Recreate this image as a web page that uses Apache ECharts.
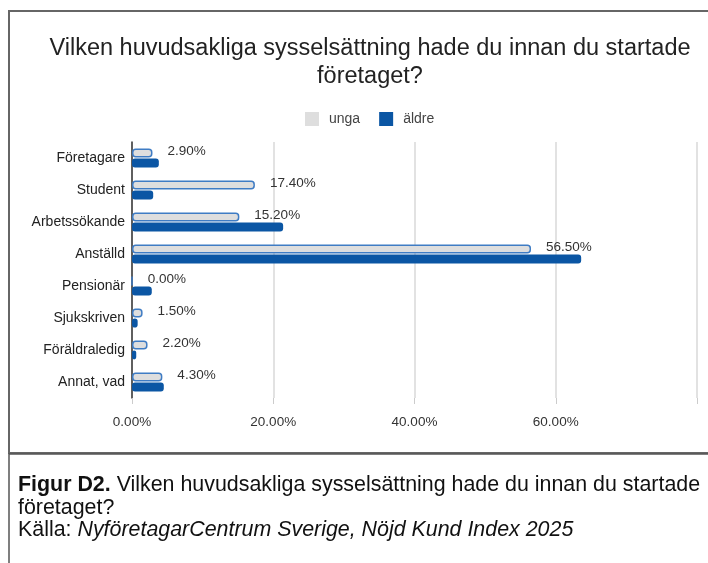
<!DOCTYPE html>
<html lang="sv">
<head>
    <meta charset="UTF-8">
    <title>Sysselsättning</title>
    <script type="text/javascript" src="https://cdn.jsdelivr.net/npm/echarts@6/dist/echarts.min.js"></script>
    <style>
        body { margin: 0; background: #fff; }
    </style>
</head>
<body>
<div id="chart" style="width:708px; height:563px;"></div>
<script>
    var categories = ['Företagare', 'Student', 'Arbetssökande', 'Anställd', 'Pensionär', 'Sjukskriven', 'Föräldraledig', 'Annat, vad'];
    var unga = [2.9, 17.4, 15.2, 56.5, 0.0, 1.5, 2.2, 4.3];
    var aldre = [3.8, 3.0, 21.4, 63.6, 2.8, 0.8, 0.6, 4.5];
    var xTicks = [0, 20, 40, 60, 80];

    var font = 'Liberation Sans, Arial, sans-serif';
    var chart = echarts.init(document.getElementById('chart'));

    var option = {
        animation: false,
        textStyle: { fontFamily: font },
        title: {
            text: 'Vilken huvudsakliga sysselsättning hade du innan du startade\nföretaget?',
            left: 365,
            textAlign: 'center',
            top: 30,
            textStyle: { fontSize: 23.5, fontWeight: 'normal', color: '#222', lineHeight: 28, fontFamily: font }
        },
        legend: {
            top: 107,
            left: 300,
            itemWidth: 14,
            itemHeight: 14,
            itemGap: 19,
            icon: 'rect',
            textStyle: { fontSize: 14, color: '#444', fontFamily: font, padding: [0, 0, 0, 5] },
            data: [
                { name: 'unga', itemStyle: { color: '#dedede', borderWidth: 0 } },
                { name: 'äldre', itemStyle: { color: '#0b56a4' } }
            ]
        },
        grid: { left: 132, right: 11, top: 142, height: 256 },
        xAxis: {
            type: 'value',
            min: xTicks[0],
            max: xTicks[xTicks.length - 1],
            interval: 20,
            axisLine: { show: false },
            axisTick: { show: true, length: 6, lineStyle: { color: '#ccc' } },
            splitLine: { show: true, lineStyle: { color: '#d9d9d9', width: 1.5 } },
            axisLabel: {
                color: '#333', fontSize: 13.5, margin: 17,
                formatter: function (v) { return v === 80 ? '' : v.toFixed(2) + '%'; }
            }
        },
        yAxis: {
            type: 'category',
            inverse: true,
            data: categories,
            axisLine: { show: true, lineStyle: { color: '#333', width: 1.5 } },
            axisTick: { show: false },
            axisLabel: { color: '#222', fontSize: 14, margin: 7 }
        },
        series: [
            {
                name: 'unga',
                type: 'bar',
                data: unga,
                barWidth: 9,
                barGap: '10%',
                itemStyle: { color: '#dedede', borderColor: '#3f7cc4', borderWidth: 1.5, borderRadius: 3 },
                label: {
                    show: true,
                    position: 'right',
                    distance: 15,
                    offset: [0, -2],
                    color: '#333',
                    fontSize: 13.5,
                    formatter: function (p) { return p.value.toFixed(2) + '%'; }
                }
            },
            {
                name: 'äldre',
                type: 'bar',
                data: aldre,
                barWidth: 9,
                itemStyle: { color: '#0b56a4', borderRadius: 3 }
            }
        ],
        graphic: [
            {
                type: 'rect',
                shape: { x: 9, y: 11, width: 720, height: 442 },
                style: { fill: 'none', stroke: '#666', lineWidth: 2 },
                silent: true
            },
            {
                type: 'rect',
                shape: { x: 9, y: 454, width: 720, height: 130 },
                style: { fill: 'none', stroke: '#555', lineWidth: 1.5 },
                silent: true
            },
            {
                type: 'text',
                left: 18,
                top: 474,
                style: {
                    text: '{b|Figur D2.} Vilken huvudsakliga sysselsättning hade du innan du startade\nföretaget?\nKälla: {i|NyföretagarCentrum Sverige, Nöjd Kund Index 2025}',
                    fontFamily: font,
                    fontSize: 21.4,
                    lineHeight: 22.5,
                    fill: '#111',
                    rich: {
                        b: { fontWeight: 'bold', fontSize: 21.4, fontFamily: font, lineHeight: 22.5 },
                        i: { fontStyle: 'italic', fontSize: 21.4, fontFamily: font, lineHeight: 22.5 }
                    }
                }
            }
        ]
    };
    chart.setOption(option);
</script>
</body>
</html>
